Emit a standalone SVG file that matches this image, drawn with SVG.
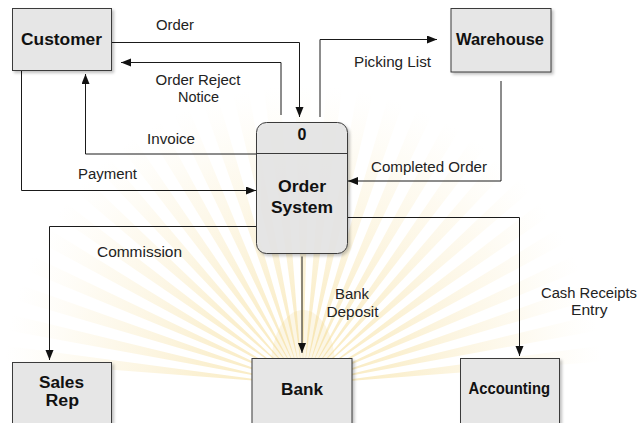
<svg xmlns="http://www.w3.org/2000/svg" xmlns:xlink="http://www.w3.org/1999/xlink" width="643" height="423" viewBox="0 0 643 423">
  <defs>
    <style>
      .box { fill: #e6e6e6; stroke: #3a3a3a; stroke-width: 1; filter: url(#shadow); }
      .wire { fill: none; stroke: #1a1a1a; stroke-width: 1; marker-end: url(#arrow); }
      .lbl { font-family: "Liberation Sans", Arial, sans-serif; font-size: 14px; fill: #222; }
      .name { font-family: "Liberation Sans", Arial, sans-serif; font-size: 16px; font-weight: bold; fill: #111; }
    </style>
    <marker id="arrow" markerUnits="userSpaceOnUse" markerWidth="11" markerHeight="9" refX="10" refY="4" orient="auto">
      <path d="M0,0 L10,4 L0,8 z" fill="#111"/>
    </marker>
    <filter id="shadow" x="-10%" y="-10%" width="130%" height="130%">
      <feGaussianBlur in="SourceAlpha" stdDeviation="1.5"/>
      <feOffset dx="2" dy="2" result="b"/>
      <feComponentTransfer><feFuncA type="linear" slope="0.25"/></feComponentTransfer>
      <feMerge><feMergeNode/><feMergeNode in="SourceGraphic"/></feMerge>
    </filter>
    <radialGradient id="rayFade" cx="0" cy="0" r="300" gradientUnits="userSpaceOnUse">
      <stop offset="0" stop-color="#efc44a" stop-opacity="0.4"/>
      <stop offset="0.35" stop-color="#f1cf6a" stop-opacity="0.3"/>
      <stop offset="0.75" stop-color="#f5dc95" stop-opacity="0.14"/>
      <stop offset="1" stop-color="#f8e8b8" stop-opacity="0"/>
    </radialGradient>
    <!-- one ray of the background sunburst, pointing up from its origin -->
    <path id="ray" d="M0,-20 L-8,-300 L8,-300 Z" fill="url(#rayFade)"/>
  </defs>

  <rect width="643" height="423" fill="#ffffff"/>

  <!-- faint sunburst emblem in the background -->
  <g id="backdrop" transform="translate(303,385)">
    <use xlink:href="#ray" transform="rotate(-84)"/>
    <use xlink:href="#ray" transform="rotate(-78)"/>
    <use xlink:href="#ray" transform="rotate(-72)"/>
    <use xlink:href="#ray" transform="rotate(-66)"/>
    <use xlink:href="#ray" transform="rotate(-60)"/>
    <use xlink:href="#ray" transform="rotate(-54)"/>
    <use xlink:href="#ray" transform="rotate(-48)"/>
    <use xlink:href="#ray" transform="rotate(-42)"/>
    <use xlink:href="#ray" transform="rotate(-36)"/>
    <use xlink:href="#ray" transform="rotate(-30)"/>
    <use xlink:href="#ray" transform="rotate(-24)"/>
    <use xlink:href="#ray" transform="rotate(-18)"/>
    <use xlink:href="#ray" transform="rotate(-12)"/>
    <use xlink:href="#ray" transform="rotate(-6)"/>
    <use xlink:href="#ray" transform="rotate(0)"/>
    <use xlink:href="#ray" transform="rotate(6)"/>
    <use xlink:href="#ray" transform="rotate(12)"/>
    <use xlink:href="#ray" transform="rotate(18)"/>
    <use xlink:href="#ray" transform="rotate(24)"/>
    <use xlink:href="#ray" transform="rotate(30)"/>
    <use xlink:href="#ray" transform="rotate(36)"/>
    <use xlink:href="#ray" transform="rotate(42)"/>
    <use xlink:href="#ray" transform="rotate(48)"/>
    <use xlink:href="#ray" transform="rotate(54)"/>
    <use xlink:href="#ray" transform="rotate(60)"/>
    <use xlink:href="#ray" transform="rotate(66)"/>
    <use xlink:href="#ray" transform="rotate(72)"/>
    <use xlink:href="#ray" transform="rotate(78)"/>
    <use xlink:href="#ray" transform="rotate(84)"/>
    <ellipse cx="0" cy="-20" rx="32" ry="55" fill="#f1d889" opacity="0.22"/>
  </g>

  <!-- connectors -->
  <g id="connectors">
    <path class="wire" d="M112,42.5 H299.5 V117"/>
    <path class="wire" d="M281,115 V62.5 H121"/>
    <path class="wire" d="M256,154 H85.5 V74"/>
    <path class="wire" d="M21.5,71 V190.5 H256"/>
    <path class="wire" d="M320,117 V39.5 H437"/>
    <path class="wire" d="M501,81 V181 H348"/>
    <path class="wire" d="M256,226.5 H49.5 V360"/>
    <path class="wire" d="M302,256.5 V353"/>
    <path class="wire" d="M347,217.5 H519.5 V356"/>
  </g>

  <!-- flow labels -->
  <g id="flow-labels">
    <text class="lbl" x="156" y="30" textLength="38" lengthAdjust="spacingAndGlyphs">Order</text>
    <text class="lbl" x="155.5" y="85" textLength="85" lengthAdjust="spacingAndGlyphs">Order Reject</text>
    <text class="lbl" x="178" y="102" textLength="41" lengthAdjust="spacingAndGlyphs">Notice</text>
    <text class="lbl" x="147" y="144" textLength="48" lengthAdjust="spacingAndGlyphs">Invoice</text>
    <text class="lbl" x="78" y="179" textLength="59" lengthAdjust="spacingAndGlyphs">Payment</text>
    <text class="lbl" x="354" y="67" textLength="77" lengthAdjust="spacingAndGlyphs">Picking List</text>
    <text class="lbl" x="371" y="172" textLength="116" lengthAdjust="spacingAndGlyphs">Completed Order</text>
    <text class="lbl" x="97" y="257" textLength="85" lengthAdjust="spacingAndGlyphs">Commission</text>
    <text class="lbl" x="335" y="299" textLength="34" lengthAdjust="spacingAndGlyphs">Bank</text>
    <text class="lbl" x="326.5" y="317" textLength="52" lengthAdjust="spacingAndGlyphs">Deposit</text>
    <text class="lbl" x="541" y="298" textLength="96" lengthAdjust="spacingAndGlyphs">Cash Receipts</text>
    <text class="lbl" x="571" y="315" textLength="36.5" lengthAdjust="spacingAndGlyphs">Entry</text>
  </g>

  <!-- external entities -->
  <g id="customer">
    <rect class="box" x="12.5" y="8.5" width="99" height="62"/>
    <text class="name" x="21" y="45" textLength="81" lengthAdjust="spacingAndGlyphs">Customer</text>
  </g>
  <g id="warehouse">
    <rect class="box" x="451" y="8.5" width="100" height="63.5"/>
    <text class="name" x="456" y="45" textLength="88" lengthAdjust="spacingAndGlyphs">Warehouse</text>
  </g>
  <g id="sales-rep">
    <rect class="box" x="12.5" y="362.5" width="99" height="70"/>
    <text class="name" x="39" y="388" textLength="45" lengthAdjust="spacingAndGlyphs">Sales</text>
    <text class="name" x="45.5" y="406" textLength="33.5" lengthAdjust="spacingAndGlyphs">Rep</text>
  </g>
  <g id="bank">
    <rect class="box" x="252" y="358.5" width="100" height="70"/>
    <text class="name" x="281" y="395" textLength="42" lengthAdjust="spacingAndGlyphs">Bank</text>
  </g>
  <g id="accounting">
    <rect class="box" x="460.5" y="358.5" width="99" height="70"/>
    <text class="name" x="468.5" y="394" textLength="81.5" lengthAdjust="spacingAndGlyphs">Accounting</text>
  </g>

  <!-- process 0 -->
  <g id="order-system">
    <rect class="box" x="256.5" y="122.5" width="91" height="131" rx="10" ry="10" fill-opacity="0.9"/>
    <line x1="256.5" y1="153.5" x2="347.5" y2="153.5" stroke="#3a3a3a" stroke-width="1"/>
    <text class="name" x="302" y="140" text-anchor="middle" font-size="14">0</text>
    <text class="name" x="278" y="192" textLength="48" lengthAdjust="spacingAndGlyphs">Order</text>
    <text class="name" x="271" y="213" textLength="62" lengthAdjust="spacingAndGlyphs">System</text>
  </g>
</svg>
